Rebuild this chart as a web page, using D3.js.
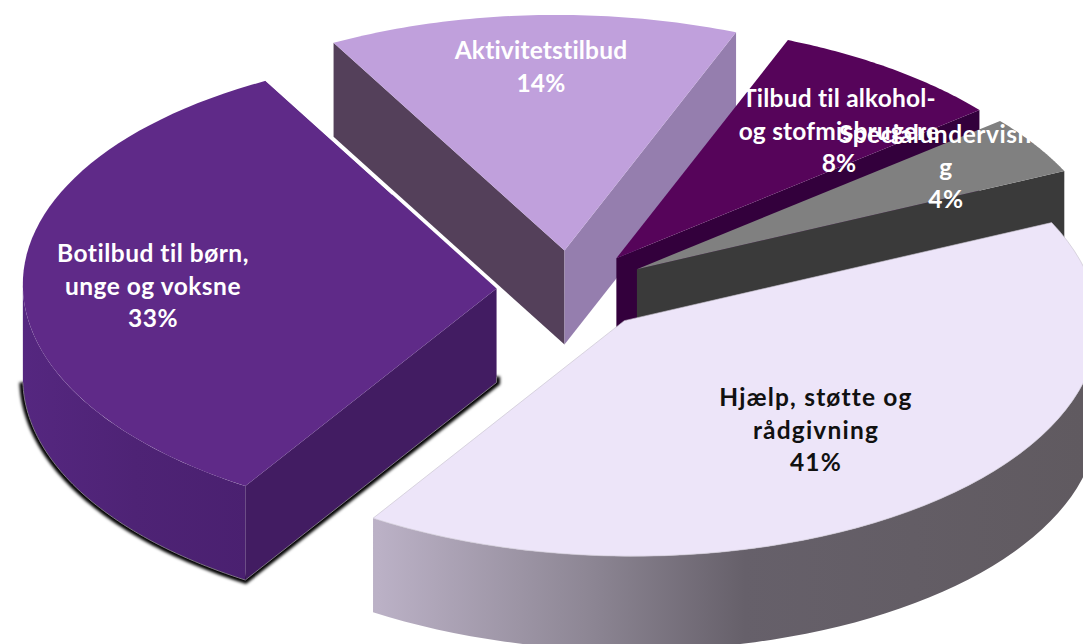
<!DOCTYPE html>
<html><head><meta charset="utf-8">
<script src="https://cdn.jsdelivr.net/npm/d3@7"></script>
<style>html,body{margin:0;padding:0;background:#fff;overflow:hidden}svg{display:block}</style>
</head><body><svg id="c" width="1083" height="644"></svg>
<script>
const categories=["Aktivitetstilbud","Tilbud til alkohol- og stofmisbrugere","Specialundervisning","Hjælp, støtte og rådgivning","Botilbud til børn, unge og voksne"];
const values=[14,8,4,41,33];
const labelLines=[["Aktivitetstilbud"],["Tilbud til alkohol-","og stofmisbrugere"],["Specialundervisnin","g"],["Hjælp, støtte og","rådgivning"],["Botilbud til børn,","unge og voksne"]];
const topColors=["#c0a0dc","#56045a","#808080","#ede5f9","#5f2a88"];
const labelColors=["#fff","#fff","#fff","#111","#fff"];

const W=1083,H=644;
const startDeg=-24.2;
const C={cx:570,cy:290,rx:472,ry:235,shearX:0.087,shearY:-0.07,depth:94};
const explodeBy=[0.168,0.168,0.168,0.172,0.155];
const labelAt=[[541,59],[839,107],[946,143],[816,406],[153,262]];
const labelSpacing=[0.2,0.2,0.55,1.2,0.5];
const lineH=32.5;

const svg=d3.select("#c");
const defs=svg.append("defs");
const xScale=d3.scaleLinear().domain([0,1]).range([0,C.rx]);
const yScale=d3.scaleLinear().domain([0,1]).range([0,C.ry]);
function project(px,py,z){
  return [C.cx+xScale(px+C.shearX*py), C.cy+yScale(py+C.shearY*px)+z];
}
const start=startDeg*Math.PI/180;
const pie=d3.pie().sort(null).startAngle(start).endAngle(start+2*Math.PI);
const arcs=pie(values);
const line=d3.line();

function slice(a,i){
  const mid=(a.startAngle+a.endAngle)/2;
  const ox=explodeBy[i]*Math.sin(mid), oy=-explodeBy[i]*Math.cos(mid);
  const pt=(t,r,z)=>project(ox+r*Math.sin(t),oy-r*Math.cos(t),z);
  const rim=(t0,t1,z)=>d3.range(0,61).map(k=>{const t=t0+(t1-t0)*k/60;return pt(t,1,z);});
  return {a,pt,rim};
}
const S=arcs.map(slice);
function face(s){return line([s.pt(0,0,0),...s.rim(s.a.startAngle,s.a.endAngle,0)])+"Z";}
function radialWall(s,t){return line([s.pt(t,0,0),s.pt(t,1,0),s.pt(t,1,C.depth),s.pt(t,0,C.depth)])+"Z";}
function outerWall(s,t0,t1){return line([...s.rim(t0,t1,0),...s.rim(t1,t0,C.depth)])+"Z";}

function grad(id,x1,x2,stops){
  const g=defs.append("linearGradient").attr("id",id).attr("gradientUnits","userSpaceOnUse")
    .attr("x1",x1).attr("x2",x2).attr("y1",0).attr("y2",0);
  stops.forEach(d=>g.append("stop").attr("offset",d[0]).attr("stop-color",d[1]));
}
grad("hw",378,1083,[[0,"#bbb1c6"],[0.3,"#8d8694"],[0.52,"#66606a"],[1,"#605a60"]]);
grad("bw",20,250,[[0,"#552780"],[0.5,"#4e2375"],[1,"#4a2070"]]);
defs.append("filter").attr("id","blur").attr("x","-10%").attr("y","-10%").attr("width","120%").attr("height","120%")
  .append("feGaussianBlur").attr("stdDeviation",1.6);
defs.append("clipPath").attr("id","specClip").append("rect").attr("x",0).attr("y",0).attr("width",1033).attr("height",H);

const [akt,til,spe,hj,bot]=S;
const g=svg.append("g");
const P=(d,f)=>g.append("path").attr("d",d).attr("fill",f);

// Aktivitetstilbud
P(radialWall(akt,akt.a.startAngle),"#54405a");
P(radialWall(akt,akt.a.endAngle),"#957eae");
P(face(akt),topColors[0]);
// Tilbud
P(radialWall(til,til.a.endAngle),"#33003c");
P(face(til),topColors[1]);
// Special
P(radialWall(spe,spe.a.endAngle),"#3a3a3a");
P(face(spe),topColors[2]);
// Botilbud
const bEnd=3*Math.PI/2+0.07;
const botLower=line([...bot.rim(bEnd,bot.a.startAngle,C.depth),bot.pt(bot.a.startAngle,0,C.depth),bot.pt(bot.a.startAngle,0,C.depth-6)]);
g.append("path").attr("d",botLower).attr("fill","none").attr("stroke","#000").attr("stroke-width",7).attr("filter","url(#blur)");
P(outerWall(bot,bot.a.startAngle,bEnd),"url(#bw)");
P(radialWall(bot,bot.a.startAngle),"#421c62");
g.append("path").attr("d",botLower).attr("fill","none").attr("stroke","#7b7482").attr("stroke-width",1);
P(face(bot),topColors[4]);
g.append("path").attr("d",line([bot.pt(bot.a.endAngle,0.45,-1),bot.pt(bot.a.endAngle,1,-1)])).attr("stroke","#fff").attr("stroke-width",2).attr("fill","none");
// Hjælp
const hEdgeT=Math.PI/2-0.07;
P(outerWall(hj,hEdgeT,hj.a.endAngle),"url(#hw)");
P(face(hj),topColors[3]).attr("stroke","#c4bfcb").attr("stroke-width",0.6);

// labels
arcs.forEach((a,i)=>{
  const lines=labelLines[i].concat([values[i]+"%"]);
  const t=svg.append("text").attr("text-anchor","middle")
    .attr("font-family","Lato, 'Open Sans', sans-serif").attr("font-weight",700).attr("font-size",24.5)
    .attr("letter-spacing",labelSpacing[i])
    .style("font-variant-ligatures","none").attr("fill",labelColors[i]);
  if(i===2) t.attr("clip-path","url(#specClip)");
  lines.forEach((l,k)=>t.append("tspan").attr("x",labelAt[i][0]).attr("y",labelAt[i][1]+k*lineH).text(l));
});
</script></body></html>
